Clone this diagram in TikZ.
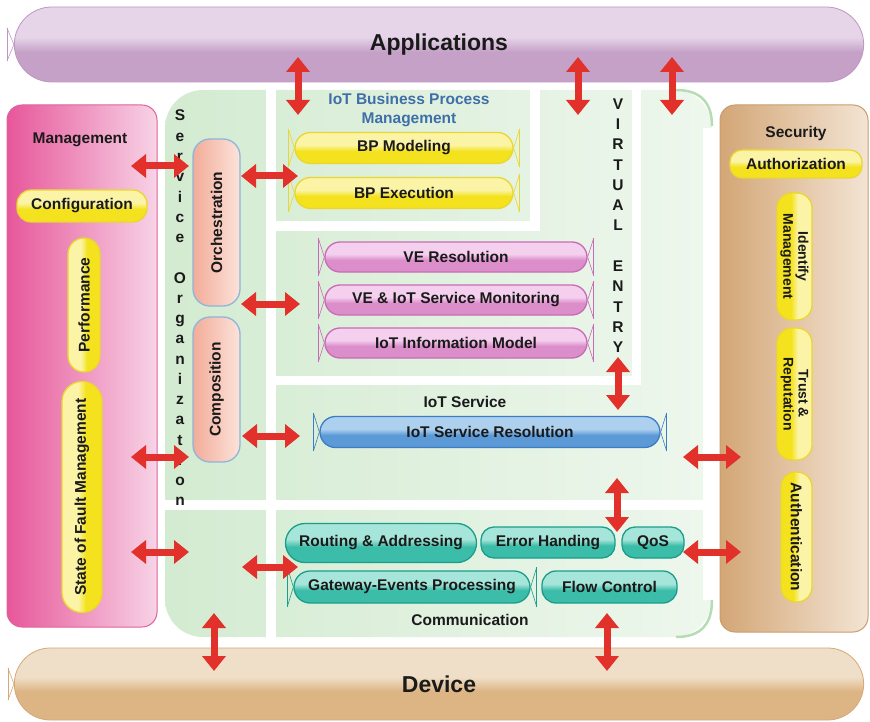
\documentclass[tikz,border=0pt]{standalone}
\usepackage{fontspec}
\setmainfont{Liberation Sans}
\usetikzlibrary{shapes.misc,arrows.meta}

\definecolor{txt}{HTML}{1A1A1A}
\definecolor{appT}{HTML}{E6D5E8}
\definecolor{appB}{HTML}{C5A1C8}
\definecolor{appD}{HTML}{BE96C2}
\definecolor{devT}{HTML}{F0DFC8}
\definecolor{devB}{HTML}{DDB585}
\definecolor{devD}{HTML}{D4A877}
\definecolor{mgL}{HTML}{E7579A}
\definecolor{mgM}{HTML}{EB6AA6}
\definecolor{mgR}{HTML}{F7D3E6}
\definecolor{mgD}{HTML}{E0629D}
\definecolor{grn}{HTML}{D3EBD1}
\definecolor{grnR}{HTML}{EEF7ED}
\definecolor{grnD}{HTML}{B5DCB2}
\definecolor{secL}{HTML}{D3A676}
\definecolor{secM}{HTML}{D8AE82}
\definecolor{secR}{HTML}{F3E4D4}
\definecolor{secD}{HTML}{C99D6E}
\definecolor{yelT}{HTML}{FBF4A6}
\definecolor{yelB}{HTML}{F4E21E}
\definecolor{yelD}{HTML}{EBD631}
\definecolor{salL}{HTML}{F2AC99}
\definecolor{salR}{HTML}{FCE3DA}
\definecolor{salD}{HTML}{8CB6DB}
\definecolor{pnkT}{HTML}{F4D0EE}
\definecolor{pnkB}{HTML}{DC8ECB}
\definecolor{pnkD}{HTML}{C86BB7}
\definecolor{bluT}{HTML}{AED0EF}
\definecolor{bluB}{HTML}{5B9AD6}
\definecolor{bluD}{HTML}{3C7DC3}
\definecolor{tlT}{HTML}{A6E5D9}
\definecolor{tlB}{HTML}{3CBDA9}
\definecolor{tlD}{HTML}{1A9E8B}
\definecolor{arr}{HTML}{E2312A}
\definecolor{bpmBlue}{HTML}{3F6FA9}
\definecolor{glosstop}{HTML}{FFFFFF}
\definecolor{glossbot}{HTML}{CCCCCC}

\pgfdeclareverticalshading[glosstop,glossbot]{gloss}{100bp}{color(0bp)=(glossbot); color(25bp)=(glossbot); color(45bp)=(glossbot); color(55bp)=(glosstop); color(75bp)=(glosstop); color(100bp)=(glosstop)}

\newcommand\pillends[2]{%
  \foreach \s/\a in {-6/west,6/east}{%
    \draw[#2, line width=1pt] ([xshift=\s pt, yshift=3pt]#1.\a |- #1.north) -- ([xshift=\s pt, yshift=-3pt]#1.\a |- #1.south);
    \draw[#2, line width=.6pt] ([xshift=\s pt, yshift=3pt]#1.\a |- #1.north) -- (#1.\a) -- ([xshift=\s pt, yshift=-3pt]#1.\a |- #1.south);
  }}

\tikzset{
  lbl/.style={font=\fontsize{15.5}{18}\selectfont\bfseries, text=txt, inner sep=0pt},
  gl/.style n args={3}{shading=gloss, /utils/exec={\colorlet{glosstop}{#1}\colorlet{glossbot}{#2}}, draw=#3, line width=1.3pt},
  yel/.style={gl={yelT}{yelB}{yelD}},
  pnk/.style={gl={pnkT}{pnkB}{pnkD}},
  blu/.style={gl={bluT}{bluB}{bluD}},
  tl/.style={gl={tlT}{tlB}{tlD}},
  sal/.style={left color=salL, right color=salR, draw=salD, line width=1.3pt},
  pill/.style={rounded rectangle, lbl},
  rbox/.style={rectangle, rounded corners=#1, lbl},
  biarrow/.style={draw=arr, line width=7pt, {Triangle[width=23pt,length=15pt]}-{Triangle[width=23pt,length=15pt]}},
  bigtxt/.style={font=\fontsize{23}{26}\selectfont\bfseries, text=txt},
}

\begin{document}
\begin{tikzpicture}[x=1pt,y=-1pt]
\useasboundingbox (0,0) rectangle (870,722);

% ---- bars
\node[rounded rectangle, gl={appT}{appB}{appD}, line width=0.8pt, minimum width=856pt, minimum height=75pt, bigtxt] (app) at (439,44.5) {Applications};
\draw[appD, line width=1pt] (7,28) -- (7,61);
\draw[appD, line width=.6pt] (7,28) -- (app.west) -- (7,61);
\node[rounded rectangle, gl={devT}{devB}{devD}, line width=0.8pt, minimum width=856pt, minimum height=72pt, bigtxt] (dev) at (439,684) {Device};
\draw[devD, line width=1pt] (8,668) -- (8,700);
\draw[devD, line width=.6pt] (8,668) -- (dev.west) -- (8,700);

% ---- management
\node[rectangle, rounded corners=15pt, left color=mgL, middle color=mgM, right color=mgR, draw=mgD, line width=1pt, minimum width=150pt, minimum height=522pt] (mgmt) at (82,366) {};
\node[lbl] (mgt) at (80,140) {Management};
\node[rbox=14pt, yel, minimum width=130pt, minimum height=32pt] (conf) at (82,206) {Configuration};
\node[pill, yel, shading angle=90, rotate=90, minimum width=134pt, minimum height=32pt] (perf) at (84,305) {Performance};
\node[pill, yel, shading angle=90, rotate=90, minimum width=231pt, minimum height=40pt] (sfm) at (82,497) {State of Fault Management};

% ---- security
\node[rectangle, rounded corners=15pt, left color=secL, middle color=secM, right color=secR, draw=secD, line width=1pt, minimum width=148pt, minimum height=527pt] (sec) at (794,368.5) {};
\node[lbl] (sect) at (796,133) {Security};
\node[rbox=12pt, yel, minimum width=132pt, minimum height=28pt] (auth) at (796,164) {Authorization};
\node[rbox=15pt, yel, shading angle=-90, rotate=-90, minimum width=127pt, minimum height=35pt, align=center, font=\fontsize{14}{15}\selectfont\bfseries] (idm) at (794.5,256.5) {Identify\\Management};
\node[rbox=15pt, yel, shading angle=-90, rotate=-90, minimum width=132pt, minimum height=35pt, align=center, font=\fontsize{14}{15}\selectfont\bfseries] (trust) at (794.5,394) {Trust \&\\Reputation};
\node[rbox=15pt, yel, shading angle=-90, rotate=-90, minimum width=130pt, minimum height=31pt] (authn) at (796.5,537) {Authentication};

% ---- green area
\shade[left color=grn, middle color=grn, right color=grnR, rounded corners=38pt] (165,90) rectangle (712,637);
\fill[white] (266,84) rectangle (276,642);
\fill[white] (160,500) rectangle (716,510);
\fill[white] (530,84) rectangle (540,231);
\fill[white] (276,221) rectangle (540,231);
\fill[white] (632,84) rectangle (641,385);
\fill[white] (276,376) rectangle (641,385);
\fill[white] (703,128) rectangle (716,600);
\draw[grnD, line width=2.5pt] (676,90) .. controls (700,90) and (712,102) .. (712,126);
\draw[grnD, line width=2.5pt] (712,600) .. controls (712,625) and (700,637) .. (676,637);

% ---- service organization
\foreach \ch [count=\i from 0] in {S,e,r,v,i,c,e}
  \node[lbl, anchor=base] (so\i) at (180,{116+\i*20.26+5}) {\ch};
\foreach \ch [count=\i from 8] in {O,r,g,a,n,i,z,a,t,i,o,n}
  \node[lbl, anchor=base] (so\i) at (180,{116+\i*20.26+5}) {\ch};
\node[rbox=17pt, sal, rotate=90, minimum width=167pt, minimum height=47pt] (orch) at (216.5,222.5) {Orchestration};
\node[rbox=17pt, sal, rotate=90, minimum width=145pt, minimum height=47pt] (comp) at (216.5,389.5) {Composition};

% ---- business process
\node[lbl, text=bpmBlue, align=center, font=\fontsize{15.5}{19}\selectfont\bfseries] (bpmt) at (409,110) {IoT Business Process\\Management};
\node[pill, yel, minimum width=218pt, minimum height=31pt] (bpm) at (404,148) {BP Modeling};
\node[pill, yel, minimum width=218pt, minimum height=31pt] (bpe) at (404,193) {BP Execution};
\pillends{bpm}{yelD}
\pillends{bpe}{yelD}

% ---- virtual entity
\node[pill, pnk, minimum width=262pt, minimum height=30pt] (veres) at (456,257) {VE Resolution};
\node[pill, pnk, minimum width=262pt, minimum height=30pt] (vemon) at (456,300) {VE \& IoT Service Monitoring};
\node[pill, pnk, minimum width=262pt, minimum height=30pt] (veinf) at (456,343) {IoT Information Model};
\pillends{veres}{pnkD}
\pillends{vemon}{pnkD}
\pillends{veinf}{pnkD}
\foreach \ch [count=\i from 0] in {V,I,R,T,U,A,L}
  \node[lbl, anchor=base] (vl\i) at (618,{104+\i*20.25+5.5}) {\ch};
\foreach \ch [count=\i from 8] in {E,N,T,R,Y}
  \node[lbl, anchor=base] (vl\i) at (618,{104+\i*20.25+5.5}) {\ch};

% ---- IoT service
\node[lbl] (iots) at (465,402) {IoT Service};
\node[pill, blu, minimum width=340pt, minimum height=31pt] (isr) at (490,432) {IoT Service Resolution};
\pillends{isr}{bluD}

% ---- communication
\node[pill, tl, minimum width=191pt, minimum height=39pt] (ra) at (381,543) {Routing \& Addressing};
\node[rbox=13pt, tl, minimum width=134pt, minimum height=31pt] (eh) at (548,542.5) {Error Handing};
\node[rbox=13pt, tl, minimum width=62pt, minimum height=31pt] (qos) at (653,542.5) {QoS};
\node[pill, tl, minimum width=236pt, minimum height=32pt] (gep) at (412,587) {Gateway-Events Processing};
\pillends{gep}{tlD}
\node[rbox=14pt, tl, minimum width=135pt, minimum height=32pt] (fc) at (609.5,587) {Flow Control};
\node[lbl] (comm) at (470,620) {Communication};

% ---- arrows
\coordinate (A1a) at (298,57);  \coordinate (A1b) at (298,115);
\coordinate (A2a) at (578,57);  \coordinate (A2b) at (578,115);
\coordinate (A3a) at (672,57);  \coordinate (A3b) at (672,115);
\coordinate (M1a) at (131,166); \coordinate (M1b) at (189,166);
\coordinate (O1a) at (241,176); \coordinate (O1b) at (298,176);
\coordinate (O2a) at (241,304); \coordinate (O2b) at (300,304);
\coordinate (C1a) at (242,436); \coordinate (C1b) at (300,436);
\coordinate (M2a) at (131,457); \coordinate (M2b) at (189,457);
\coordinate (M3a) at (131,552); \coordinate (M3b) at (189,552);
\coordinate (CMa) at (242,567); \coordinate (CMb) at (298,567);
\coordinate (VEa) at (618,357); \coordinate (VEb) at (618,410);
\coordinate (SCa) at (617,478); \coordinate (SCb) at (617,532);
\coordinate (S1a) at (683,457); \coordinate (S1b) at (741,457);
\coordinate (S2a) at (683,552); \coordinate (S2b) at (741,552);
\coordinate (D1a) at (214,613); \coordinate (D1b) at (214,671);
\coordinate (D2a) at (607,613); \coordinate (D2b) at (607,671);
\foreach \n in {A1,A2,A3,M1,O1,O2,C1,M2,M3,CM,VE,SC,S1,S2,D1,D2}
  \draw[biarrow] (\n a) -- (\n b);
\end{tikzpicture}
\end{document}
